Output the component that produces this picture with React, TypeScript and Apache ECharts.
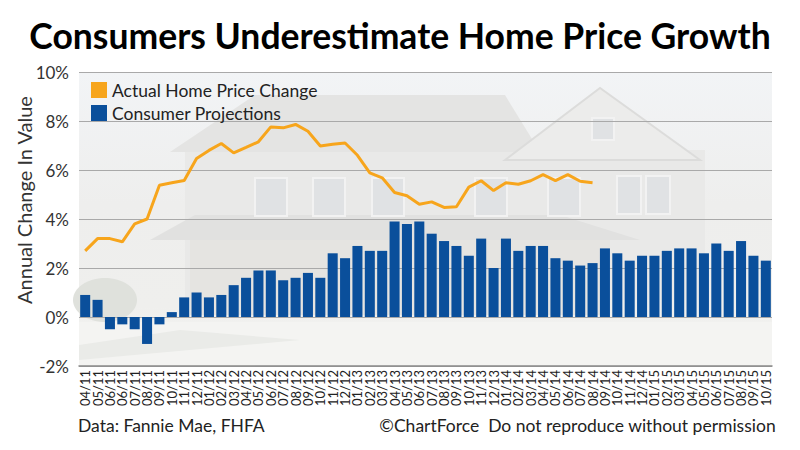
import React, { useEffect, useRef } from "react";
import * as echarts from "echarts";

const categories = [
  "04/11", "05/11", "06/11", "06/11", "07/11", "08/11", "09/11", "10/11", "11/11", "12/11",
  "01/12", "02/12", "03/12", "04/12", "05/12", "06/12", "07/12", "08/12", "09/12", "10/12", "11/12", "12/12",
  "01/13", "02/13", "03/13", "04/13", "05/13", "06/13", "07/13", "08/13", "09/13", "10/13", "11/13", "12/13",
  "01/14", "02/14", "03/14", "04/14", "05/14", "06/14", "07/14", "08/14", "09/14", "10/14", "11/14", "12/14",
  "01/15", "02/15", "03/15", "04/15", "05/15", "06/15", "07/15", "08/15", "09/15", "10/15",
];

const actualHomePriceChange = [
  2.7, 3.2, 3.2, 3.07, 3.8, 4.0, 5.38, 5.48, 5.57, 6.47,
  6.8, 7.08, 6.7, 6.92, 7.15, 7.76, 7.72, 7.86, 7.58, 6.98,
  7.05, 7.1, 6.6, 5.88, 5.68, 5.08, 4.95, 4.6, 4.7, 4.47,
  4.5, 5.3, 5.56, 5.16, 5.48, 5.42, 5.56, 5.81, 5.57, 5.81,
  5.54, 5.48,
];

const consumerProjections = [
  0.9, 0.7, -0.5, -0.3, -0.5, -1.1, -0.3, 0.2, 0.8, 1.0,
  0.8, 0.9, 1.3, 1.6, 1.9, 1.9, 1.5, 1.6, 1.8, 1.6,
  2.6, 2.4, 2.9, 2.7, 2.7, 3.9, 3.8, 3.9, 3.4, 3.1,
  2.9, 2.5, 3.2, 2.0, 3.2, 2.7, 2.9, 2.9, 2.4, 2.3,
  2.1, 2.2, 2.8, 2.6, 2.3, 2.5, 2.5, 2.7, 2.8, 2.8,
  2.6, 3.0, 2.7, 3.1, 2.5, 2.3,
];

const FONT = "Lato, 'Open Sans', sans-serif";

export default function App() {
  const ref = useRef<HTMLDivElement>(null);

  useEffect(() => {
    if (!ref.current) return;
    const chart = echarts.init(ref.current, null, { renderer: "svg" });

    const bgZ = -10;
    const deco = (el: any) => ({ ...el, z: bgZ, silent: true });
    const house: any[] = [
      deco({
        type: "rect",
        shape: { x: 79, y: 72, width: 693, height: 294 },
        style: {
          fill: new echarts.graphic.LinearGradient(0, 0, 0, 1, [
            { offset: 0, color: "#f2f4f6" },
            { offset: 0.45, color: "#eeeeed" },
            { offset: 0.8, color: "#efefed" },
            { offset: 1, color: "#f6f6f4" },
          ]),
        },
      }),
      deco({ type: "rect", shape: { x: 185, y: 150, width: 520, height: 150 }, style: { fill: "#e9e9e8" } }),
      deco({ type: "polygon", shape: { points: [[170, 152], [255, 95], [505, 95], [540, 152]] }, style: { fill: "#e4e4e3" } }),
      deco({ type: "polygon", shape: { points: [[505, 160], [600, 88], [700, 160]] }, style: { fill: "#ececeb", stroke: "#dcdcdb", lineWidth: 2 } }),
      deco({ type: "polygon", shape: { points: [[150, 240], [195, 215], [560, 215], [640, 240]] }, style: { fill: "#e1e1e0" } }),
      deco({ type: "rect", shape: { x: 190, y: 240, width: 420, height: 75 }, style: { fill: "#e5e4e1" } }),
      ...[
        [255, 178, 32, 38], [313, 178, 32, 38], [372, 178, 32, 38], [475, 178, 32, 38], [548, 178, 32, 38],
        [617, 176, 24, 38], [646, 176, 24, 38], [592, 118, 22, 22],
      ].map((w) =>
        deco({
          type: "rect",
          shape: { x: w[0], y: w[1], width: w[2], height: w[3] },
          style: { fill: "#e0e2e4", stroke: "#f2f2f2", lineWidth: 2 },
        })
      ),
      deco({ type: "ellipse", shape: { cx: 105, cy: 300, rx: 32, ry: 22 }, style: { fill: "#dfe1dc" } }),
      deco({ type: "rect", shape: { x: 79, y: 322, width: 693, height: 44 }, style: { fill: "#f4f4f2" } }),
      deco({ type: "polygon", shape: { points: [[79, 345], [180, 330], [300, 340], [79, 360]] }, style: { fill: "#eaebe8" } }),
    ];

    chart.setOption({
      animation: false,
      textStyle: { fontFamily: FONT },
      title: {
        text: "Consumers Underestimate Home Price Growth",
        left: "center",
        top: 12,
        textStyle: { fontFamily: FONT, fontSize: 35.5, fontWeight: "bold", color: "#000" },
      },
      legend: {
        orient: "vertical",
        left: 86,
        top: 76,
        icon: "rect",
        itemWidth: 16,
        itemHeight: 16,
        itemGap: 5,
        textStyle: { fontFamily: FONT, fontSize: 17.5, color: "#222" },
        data: ["Actual Home Price Change", "Consumer Projections"],
      },
      grid: { left: 79, right: 28, top: 72, bottom: 84, containLabel: false },
      xAxis: {
        type: "category",
        data: categories,
        boundaryGap: true,
        axisLine: { show: true, onZero: false, lineStyle: { color: "#8a8a8a", width: 1.5 } },
        axisTick: { show: false },
        axisLabel: {
          interval: 0,
          rotate: 90,
          fontFamily: FONT,
          fontSize: 13,
          color: "#222",
          margin: 4,
        },
      },
      yAxis: {
        type: "value",
        min: -2,
        max: 10,
        interval: 2,
        axisLine: { show: false },
        axisTick: { show: false },
        axisLabel: { formatter: "{value}%", fontFamily: FONT, fontSize: 17, color: "#333", margin: 10 },
        splitLine: { lineStyle: { color: "#a9a9a9", width: 1 } },
      },
      graphic: [
        ...house,
        {
          type: "text",
          x: 24,
          y: 200,
          rotation: Math.PI / 2,
          style: {
            text: "Annual Change In Value",
            fontFamily: FONT,
            fontSize: 20,
            fill: "#333",
            align: "center",
            verticalAlign: "middle",
          },
        },
        {
          type: "text",
          left: 78,
          top: 416,
          style: { text: "Data: Fannie Mae, FHFA", fontFamily: FONT, fontSize: 17.5, fill: "#222" },
        },
        {
          type: "text",
          right: 24,
          top: 416,
          style: { text: "\u00A9ChartForce  Do not reproduce without permission", fontFamily: FONT, fontSize: 17.5, fill: "#222" },
        },
      ],
      series: [
        {
          name: "Consumer Projections",
          type: "bar",
          data: consumerProjections,
          barCategoryGap: "19%",
          itemStyle: { color: "#0a4f9b" },
          z: 2,
        },
        {
          name: "Actual Home Price Change",
          type: "line",
          data: actualHomePriceChange,
          showSymbol: false,
          symbol: "none",
          lineStyle: { color: "#f7a51c", width: 3 },
          itemStyle: { color: "#f7a51c" },
          z: 3,
        },
      ],
    });

    return () => chart.dispose();
  }, []);

  return <div ref={ref} style={{ width: 800, height: 450, margin: -8 }} />;
}
